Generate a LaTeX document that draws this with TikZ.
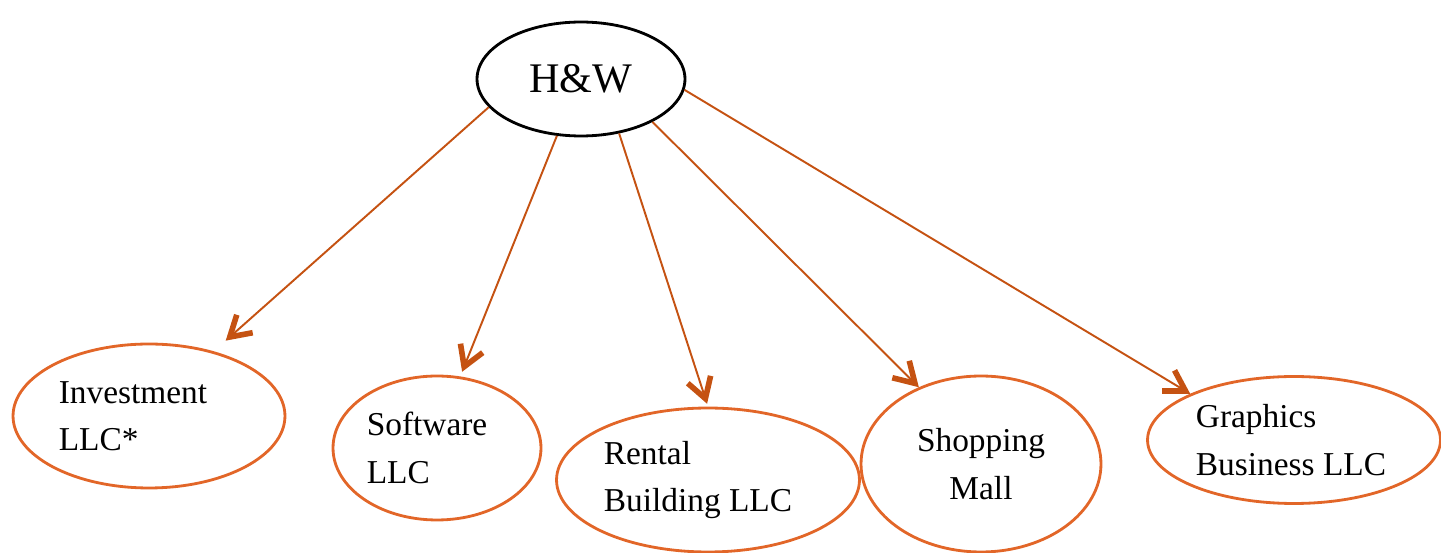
\documentclass[tikz,border=0pt]{standalone}
\usepackage{fontspec}
\setmainfont{Liberation Serif}
\usetikzlibrary{shapes.geometric, arrows.meta, positioning}
\definecolor{ellorange}{RGB}{226,102,40}
\definecolor{arrorange}{RGB}{197,82,18}

\begin{document}
\begin{tikzpicture}[x=0.02cm, y=-0.02cm,
    every node/.style={font=\fontsize{19}{27}\selectfont},
    company/.style={ellipse, draw=ellorange, line width=1.6pt, inner sep=0pt},
    link/.style={draw=arrorange, line width=1.1pt, -{Straight Barb[length=4mm, width=4.8mm, line width=3.2pt]}}]
    \useasboundingbox (0,0) rectangle (1441,553);

    \node (hw) [ellipse, draw, line width=1.6pt, inner sep=0pt, minimum width=4.16cm, minimum height=2.28cm,
        font=\fontsize{24}{28}\selectfont] at (581,79) {H\&W};

    \node (invest) [company, minimum width=5.44cm, minimum height=2.88cm,
        label={[xshift=-0.32cm, align=left]center:Investment\\LLC*}] at (149,416) {};
    \node (software) [company, minimum width=4.16cm, minimum height=2.88cm,
        label={[xshift=-0.2cm, align=left]center:Software\\LLC}] at (437,448) {};
    \node (rental) [company, minimum width=6.06cm, minimum height=2.88cm,
        label={[xshift=-0.2cm, align=left]center:Rental\\Building LLC}] at (708,480) {};
    \node (mall) [company, minimum width=4.80cm, minimum height=3.52cm,
        label={[align=center]center:Shopping\\Mall}] at (981,464) {};
    \node (graphics) [company, minimum width=5.86cm, minimum height=2.54cm,
        label={[xshift=-0.06cm, align=left]center:Graphics\\Business LLC}] at (1294,440) {};

    \draw[link, shorten >=0.32cm] (hw.197) -- (invest.45);
    \draw[link, shorten >=0.1cm] (hw.247) -- (software.72);
    \draw[link, shorten >=0.06cm] (hw.305) -- (rental.90);
    \draw[link] (hw.329) -- (mall.129);
    \draw[link] (hw.354) -- (graphics.156);
\end{tikzpicture}
\end{document}
